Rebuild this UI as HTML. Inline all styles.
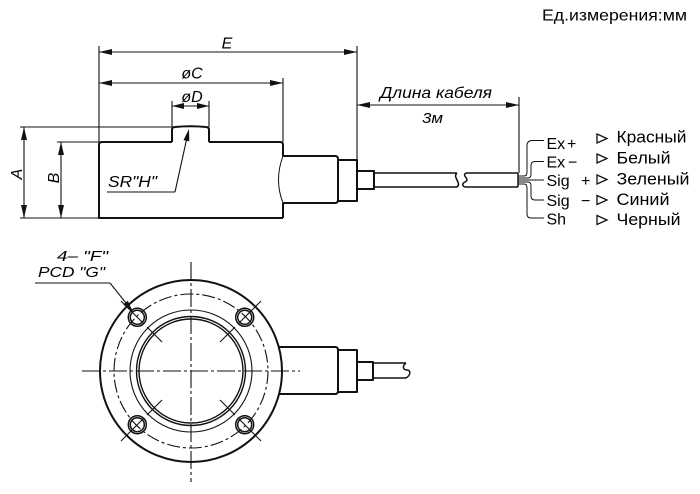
<!DOCTYPE html>
<html><head><meta charset="utf-8"><style>
html,body{margin:0;padding:0;background:#fff;width:700px;height:494px;overflow:hidden}
svg{display:block}
text{font-family:"Liberation Sans",Arial,sans-serif;fill:#000}
.it{font-style:italic}
</style></head><body>
<svg width="700" height="494" viewBox="0 0 700 494" xmlns="http://www.w3.org/2000/svg">
<rect width="700" height="494" fill="#fff"/>

<!-- Title -->
<text x="542" y="20.5" font-size="16" textLength="145" lengthAdjust="spacingAndGlyphs">Ед.измерения:мм</text>

<g stroke="#111" fill="none" stroke-linecap="butt">
<!-- ===== SIDE VIEW ===== -->
<g stroke-width="1.1">
<line x1="99" y1="46" x2="99" y2="142"/>
<line x1="357" y1="46" x2="357" y2="160"/>
<line x1="283" y1="78" x2="283" y2="142"/>
<line x1="172" y1="101" x2="172" y2="127"/>
<line x1="209" y1="101" x2="209" y2="127"/>
<line x1="519" y1="97" x2="519" y2="173"/>
<line x1="20" y1="127" x2="172" y2="127"/>
<line x1="57" y1="142" x2="99" y2="142"/>
<line x1="20" y1="218" x2="99" y2="218"/>
<line x1="99" y1="52" x2="357" y2="52"/>
<line x1="99" y1="83" x2="283" y2="83"/>
<line x1="172" y1="106" x2="209" y2="106"/>
<line x1="357" y1="105" x2="519" y2="105"/>
<line x1="24" y1="127" x2="24" y2="218"/>
<line x1="61" y1="142" x2="61" y2="218"/>
<line x1="107" y1="192" x2="175" y2="192"/>
<line x1="175" y1="192" x2="188" y2="133"/>
<line x1="35" y1="283" x2="110" y2="283"/>
<line x1="110" y1="283" x2="130" y2="308"/>
</g>

<!-- Body -->
<g stroke-width="2" stroke-linejoin="round">
<path d="M283,218 L99,218 L99,145 Q99,142 102,142 L172,142 M209,142 L280,142 Q283,142 283,145 L283,156"/>
<path d="M283,203 L283,218"/>
<path d="M172,142 L172,130 Q172,127 175,127 Q190,125.5 206,127 Q209,127 209,130 L209,142"/>
<path d="M283,156 L335,156 Q338,156 338,159 L338,200 Q338,203 335,203 L283,203"/>
<rect x="338" y="160" width="19" height="41"/>
<rect x="357" y="171" width="17" height="18"/>
</g>
<path d="M283,156 Q274,180 283,203" stroke-width="1"/>
<!-- cable -->
<g stroke-width="1.5">
<line x1="374" y1="173" x2="457" y2="173"/>
<line x1="374" y1="187" x2="457" y2="187"/>
<path d="M457,173 C452,177 462,183 457,187"/>
<path d="M466,173 C461,176 471,179 465,182 C461,184 463,187 466,187"/>
<line x1="466" y1="173" x2="518" y2="173"/>
<line x1="466" y1="187" x2="518" y2="187"/>
<line x1="518" y1="173" x2="518" y2="187"/>
</g>
<!-- wires -->
<g stroke-width="1">
<path d="M518,176 L524,176 Q527,176 527,172 L527,146 Q527,140.5 532,140.5 L544,140.5"/>
<path d="M518,178 L528,178 Q531,178 531,174 L531,165.5 Q531,161.5 535,161.5 L544,161.5"/>
<path d="M518,180 L544,180"/>
<path d="M518,182 L528,182 Q531,182 531,186 L531,196 Q531,200 535,200 L544,200"/>
<path d="M518,184 L524,184 Q527,184 527,188 L527,214 Q527,218 531,218 L544,218"/>
</g>
<!-- triangles -->
<g stroke-width="1.3" stroke-linejoin="miter">
<polygon points="597,134 607,138.5 597,143"/>
<polygon points="597,154 607,158.5 597,163"/>
<polygon points="597,175 607,179.5 597,184"/>
<polygon points="597,195.5 607,200 597,204.5"/>
<polygon points="597,215.5 607,220 597,224.5"/>
</g>

<!-- ===== BOTTOM VIEW ===== -->
<g stroke-width="1.1">
<line x1="82" y1="371" x2="300" y2="371" stroke-dasharray="18 3 3 3"/>
<line x1="191" y1="262" x2="191" y2="482" stroke-dasharray="18 3 3 3"/>
<circle cx="191" cy="371" r="77" stroke-dasharray="13 3 3 3"/>
<circle cx="191" cy="371" r="61"/>
</g>
<circle cx="191" cy="371" r="91" stroke-width="2"/>
<circle cx="191" cy="371" r="54.5" stroke-width="1.4"/>
<circle cx="191" cy="371" r="52" stroke-width="1.4"/>
<!-- holes -->
<g stroke-width="1.5">
<circle cx="137.3" cy="317.3" r="9"/><circle cx="137.3" cy="317.3" r="7"/>
<circle cx="244.7" cy="317.3" r="9"/><circle cx="244.7" cy="317.3" r="7"/>
<circle cx="137.3" cy="424.7" r="9"/><circle cx="137.3" cy="424.7" r="7"/>
<circle cx="244.7" cy="424.7" r="9"/><circle cx="244.7" cy="424.7" r="7"/>
</g>
<!-- diagonal marks -->
<g stroke-width="1.1">
<line x1="144" y1="324" x2="121" y2="301"/>
<line x1="238" y1="324" x2="261" y2="301"/>
<line x1="144" y1="418" x2="121" y2="441"/>
<line x1="238" y1="418" x2="261" y2="441"/>
<line x1="162" y1="342" x2="147" y2="327"/>
<line x1="220" y1="342" x2="235" y2="327"/>
<line x1="162" y1="400" x2="147" y2="415"/>
<line x1="220" y1="400" x2="235" y2="415"/>
</g>
<!-- neck bottom view -->
<g stroke-width="2" stroke-linejoin="round">
<path d="M279,347 L335,347 Q338,347 338,350 L338,391 Q338,394 335,394 L279,394"/>
<rect x="338" y="350" width="19" height="42"/>
<rect x="357" y="362" width="16" height="18"/>
</g>
<g stroke-width="1.5">
<line x1="373" y1="363" x2="406" y2="363"/>
<line x1="373" y1="378" x2="406" y2="378"/>
<path d="M406,363 C402,366 403,370 407,370 C411,370 411,375 406,378"/>
</g>
</g>

<!-- arrowheads -->
<g fill="#111" stroke="none">
<polygon points="99,52 112,49 112,55"/>
<polygon points="357,52 344,49 344,55"/>
<polygon points="99,83 112,80 112,86"/>
<polygon points="283,83 270,80 270,86"/>
<polygon points="172,106 184,103 184,109"/>
<polygon points="209,106 197,103 197,109"/>
<polygon points="357,105 370,102 370,108"/>
<polygon points="519,105 506,102 506,108"/>
<polygon points="24,127 21,140 27,140"/>
<polygon points="24,218 21,205 27,205"/>
<polygon points="61,142 58,155 64,155"/>
<polygon points="61,218 58,205 64,205"/>
<polygon points="189,129 189.3,141.4 183.5,140.1"/>
<polygon points="133,312 123.2,304.5 127.8,300.7"/>
</g>

<!-- dimension labels -->
<text class="it" x="227" y="48.5" font-size="16" text-anchor="middle">E</text>
<text class="it" x="192" y="78.5" font-size="16" text-anchor="middle">øC</text>
<text class="it" x="192" y="102" font-size="16" text-anchor="middle">øD</text>
<text class="it" x="108" y="187" font-size="16" textLength="49" lengthAdjust="spacingAndGlyphs">SR"H"</text>
<text class="it" font-size="16" transform="translate(22,174) rotate(-90)" text-anchor="middle">A</text>
<text class="it" font-size="16" transform="translate(59,178) rotate(-90)" text-anchor="middle">B</text>
<text class="it" x="380" y="98" font-size="16" textLength="112" lengthAdjust="spacingAndGlyphs">Длина кабеля</text>
<text class="it" x="422" y="123" font-size="15" textLength="21" lengthAdjust="spacingAndGlyphs">3м</text>
<text class="it" x="57" y="261" font-size="15" textLength="51" lengthAdjust="spacingAndGlyphs">4– "F"</text>
<text class="it" x="38" y="277" font-size="15" textLength="67" lengthAdjust="spacingAndGlyphs">PCD "G"</text>

<!-- wire labels -->
<g font-size="16">
<text x="546.5" y="149">Ex</text><text x="567" y="149">+</text>
<text x="546.5" y="167.3">Ex</text><text x="568" y="167.3">−</text>
<text x="546.5" y="186">Sig</text><text x="581" y="186">+</text>
<text x="546.5" y="206">Sig</text><text x="581" y="206">−</text>
<text x="546.5" y="224.3">Sh</text>
</g>
<g font-size="17">
<text x="616.5" y="142.3" textLength="70" lengthAdjust="spacingAndGlyphs">Красный</text>
<text x="616.5" y="163.3" textLength="54" lengthAdjust="spacingAndGlyphs">Белый</text>
<text x="616.5" y="184.3" textLength="73" lengthAdjust="spacingAndGlyphs">Зеленый</text>
<text x="616.5" y="205" textLength="53" lengthAdjust="spacingAndGlyphs">Синий</text>
<text x="616.5" y="225" textLength="64" lengthAdjust="spacingAndGlyphs">Черный</text>
</g>
</svg>
</body></html>
